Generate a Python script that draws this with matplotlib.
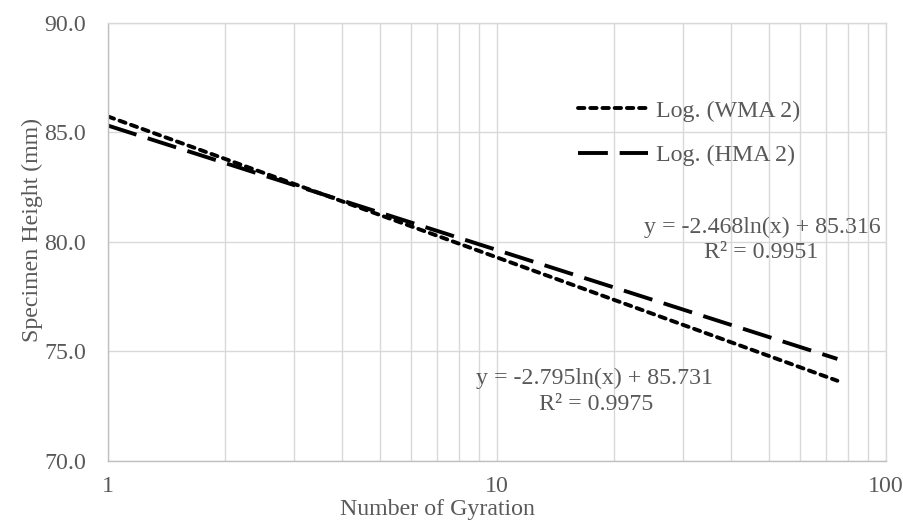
import numpy as np
import matplotlib
matplotlib.use("Agg")
import matplotlib.pyplot as plt

# Logarithmic trend lines: y = slope * ln(x) + intercept
series = ["WMA 2", "HMA 2"]
slopes = [-2.795, -2.468]
intercepts = [85.731, 85.316]
r_squared = [0.9975, 0.9951]
x_range = [1, 75]

y_ticks = [70, 75, 80, 85, 90]
x_ticks = [1, 10, 100]

text_color = "#595959"
grid_color = "#d9d9d9"
fs = 17.2

plt.rcParams["font.family"] = ["Liberation Serif", "DejaVu Serif"]
plt.rcParams["lines.scale_dashes"] = False

fig = plt.figure(figsize=(9.04, 5.2), dpi=100)
ax = fig.add_axes([108 / 904, 1 - 461 / 520, 778 / 904, 438 / 520])

x = np.array(x_range, dtype=float)
styles = [
    dict(dashes=(4.6, 4.2), dash_capstyle="round"),
    dict(dashes=(21.5, 8.5), dash_capstyle="butt"),
]
for name, a, b, st in zip(series, slopes, intercepts, styles):
    ax.plot(x, a * np.log(x) + b, color="black", lw=2.8,
            label=f"Log. ({name})", **st)

ax.set_xscale("log")
ax.set_xlim(1, 100)
ax.set_ylim(70, 90)
ax.set_yticks(y_ticks)
ax.set_yticklabels([f"{v:.1f}" for v in y_ticks])
ax.set_xticks(x_ticks)
ax.set_xticklabels([str(v) for v in x_ticks])
ax.xaxis.set_minor_formatter(matplotlib.ticker.NullFormatter())

ax.grid(True, which="both", axis="x", color=grid_color, lw=1.0)
ax.grid(True, which="major", axis="y", color=grid_color, lw=1.0)
ax.set_axisbelow(True)
for s in ax.spines.values():
    s.set_color(grid_color)
    s.set_linewidth(1.0)
ax.spines["left"].set_color("#bfbfbf")
ax.spines["bottom"].set_color("#bfbfbf")

ax.tick_params(which="both", length=0, labelsize=fs, labelcolor=text_color)
ax.tick_params(axis="y", pad=16)
ax.tick_params(axis="x", pad=11)

fig.text(438 / 904, 1 - 509 / 520, "Number of Gyration", ha="center",
         va="center", fontsize=fs, color=text_color)
fig.text(32 / 904, 1 - 230 / 520, "Specimen Height (mm)", ha="center",
         va="center", rotation=90, fontsize=fs, color=text_color)

# Trend line equations
eq_pos = [(595, 378, 596, 405), (762, 227, 761, 253)]
for a, b, r2, (ex, ey, rx, ry) in zip(slopes, intercepts, r_squared, eq_pos):
    fig.text(ex / 904, 1 - ey / 520, f"y = {a:.3f}ln(x) + {b:.3f}",
             ha="center", va="center", fontsize=fs, color=text_color)
    fig.text(rx / 904, 1 - ry / 520, f"R² = {r2:.4f}",
             ha="center", va="center", fontsize=fs, color=text_color)

ax.legend(loc="upper left", bbox_to_anchor=(578 / 904, 1 - 100 / 520),
          bbox_transform=fig.transFigure, frameon=False, fontsize=fs,
          labelcolor=text_color, handlelength=2.95, handletextpad=0.3,
          labelspacing=0.95, borderaxespad=0, borderpad=0)

fig.savefig("out.png", dpi=100)
